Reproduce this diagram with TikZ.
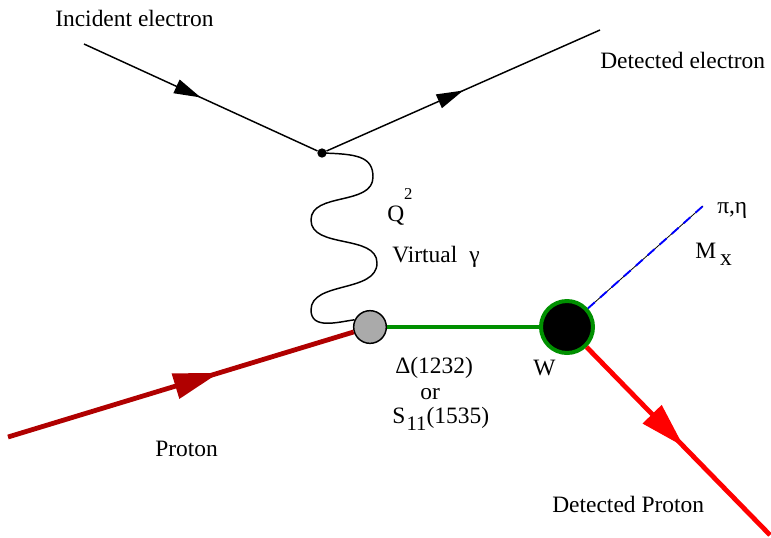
\documentclass[tikz,border=0pt]{standalone}
\usepackage{fontspec}
\setmainfont{Liberation Serif}
\usepackage{xcolor}
\usetikzlibrary{arrows.meta, decorations.markings, positioning}

\definecolor{protonred}{RGB}{176,0,0}
\definecolor{wgreen}{RGB}{0,144,0}
\definecolor{blobgray}{RGB}{170,170,170}

% lowered index written at text size
\newcommand{\lowidx}[1]{\raisebox{-5.5pt}{#1}}

\begin{document}
\begin{tikzpicture}[
    x=0.75pt, y=-0.75pt,
    lbl/.style={inner sep=0pt, anchor=base west, font=\fontsize{17.6}{18.8}\selectfont},
    vertex/.style={circle, fill=black, inner sep=0pt, minimum size=7pt},
    blob/.style={circle, draw, fill=blobgray, line width=1.1pt, inner sep=0pt, minimum size=24.5pt},
    wblob/.style={circle, draw=wgreen, fill=black, line width=3pt, inner sep=0pt, minimum size=39pt},
    electron/.style={line width=1.1pt, postaction={decorate},
        decoration={markings, mark=at position 0.5 with {\arrow{Triangle[length=20pt, width=11pt]}}}},
    proton/.style={protonred, line width=3.6pt, postaction={decorate},
        decoration={markings, mark=at position 0.61 with {\arrow{Triangle[length=34pt, width=19pt]}}}},
    detproton/.style={red, line width=3.6pt, postaction={decorate},
        decoration={markings, mark=at position 0.53 with {\arrow{Triangle[length=34pt, width=19pt]}}}},
    photon/.style={line width=1.1pt}
]
    \useasboundingbox (0,0) rectangle (771,537);

    % vertices
    \node [vertex] (v1) at (322,153) {};
    \node [blob] (gblob) at (370,327) {};
    \node [wblob] (wblob) at (567,327) {};

    % free ends
    \coordinate (ein) at (84,44);
    \coordinate (eout) at (600,30);
    \coordinate (pin) at (8,437);
    \coordinate (pout) at (770,535);
    \coordinate (mx) at (703,206);

    % electron lines
    \draw [electron] (ein) -- (v1);
    \draw [electron] (v1) -- (eout);

    % virtual photon
    \draw [photon] (v1.center) .. controls (356,154) and (373,156) .. (373,177)
        .. controls (373,206) and (311,192) .. (311,220)
        .. controls (311,249) and (377,234) .. (377,263)
        .. controls (377,293) and (311,281) .. (311,310)
        .. controls (311,330) and (338,322) .. (gblob.155);

    % hadron lines
    \draw [proton] (pin) -- (gblob);
    \draw [wgreen, line width=3pt] (gblob) -- (wblob);
    \draw [detproton] (wblob) -- (pout);
    \draw [black, line width=0.6pt] (wblob) -- (mx);
    \draw [blue, line width=1.4pt, dash pattern=on 7pt off 5pt] (wblob) -- (mx);

    % labels
    \node [lbl] (inclbl) at (55,26) {Incident electron};
    \node [lbl] (detlbl) at (600,68) {Detected electron};
    \node [lbl] (qlbl) at (387,221) {Q\raisebox{16pt}{\fontsize{12.5}{12.5}\selectfont 2}};
    \node [lbl] (gamlbl) at (392,262) {Virtual\hspace{9pt}γ};
    \node [lbl] (pilbl) at (717,213) {π,η};
    \node [lbl] (mxlbl) at (695,258) {M\hspace{3pt}\lowidx{x}};
    \node [lbl] (wlbl) at (533,375) {W};
    \node [lbl] (dellbl) at (395,373) {Δ(1232)};
    \node [lbl] (orlbl) at (420,399) {or};
    \node [lbl] (slbl) at (392,423) {S\hspace{1pt}\lowidx{\fontsize{15.5}{15.5}\selectfont 11}(1535)};
    \node [lbl] (plbl) at (155,456) {Proton};
    \node [lbl] (dplbl) at (552,512) {Detected Proton};
\end{tikzpicture}
\end{document}
